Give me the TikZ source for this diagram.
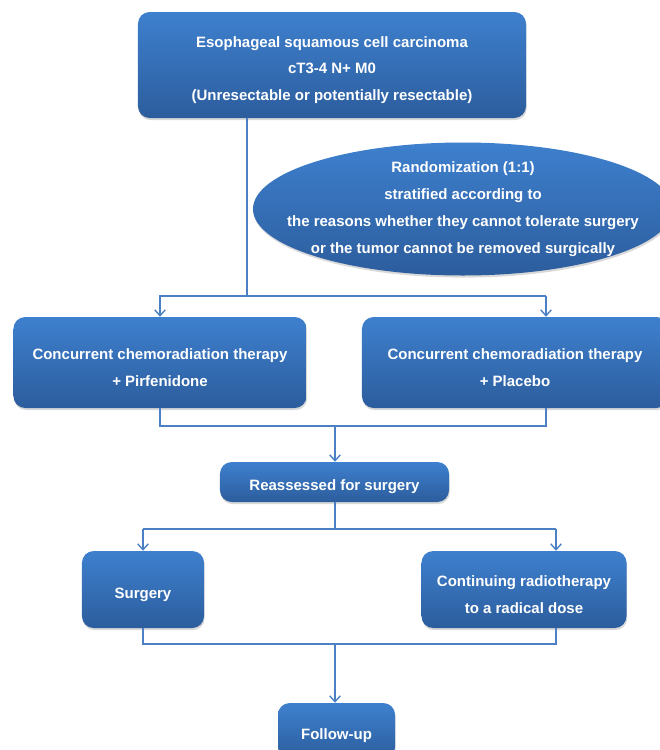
\documentclass[tikz,border=0pt]{standalone}
\usepackage{fontspec}
\setmainfont{Liberation Sans}
\usetikzlibrary{shapes,shadows,arrows.meta}
\definecolor{boxtop}{RGB}{62,128,206}
\definecolor{boxbot}{RGB}{44,93,157}
\definecolor{linecol}{RGB}{76,128,196}
\newcommand{\tp}{\rule{0pt}{18pt}}

\begin{document}
\begin{tikzpicture}[x=0.03cm,y=-0.03cm,
  box/.style={shape=rectangle,rounded corners=10pt,top color=boxtop,bottom color=boxbot,draw=none,text=white,align=center,inner sep=0pt,font=\bfseries\fontsize{12.8}{23}\selectfont,drop shadow={shadow xshift=0.6pt,shadow yshift=-1.8pt,opacity=0.3}},
  line/.style={draw=linecol,line width=1.2pt},
  arr/.style={-{Straight Barb[length=5pt,width=9pt]},draw=linecol,line width=1.2pt}]
\useasboundingbox (0,0) rectangle (659,750);

\node[box,minimum width=11.64cm,minimum height=3.18cm] (0) at (332,65) {\tp Esophageal squamous cell carcinoma\\cT3-4 N+ M0\\(Unresectable or potentially resectable)};
\node[box,shape=ellipse,rounded corners=0pt,minimum width=12.6cm,minimum height=3.99cm,inner xsep=-30pt,inner ysep=-8pt] (1) at (463,209) {Randomization (1:1)\\stratified according to\\the reasons whether they cannot tolerate surgery\\or the tumor cannot be removed surgically};
\node[box,minimum width=8.79cm,minimum height=2.73cm] (3) at (160,362.5) {\tp Concurrent chemoradiation therapy\\+ Pirfenidone};
\node[box,minimum width=9.18cm,minimum height=2.73cm] (4) at (515,362.5) {\tp Concurrent chemoradiation therapy\\+ Placebo};
\node[box,minimum width=6.87cm,minimum height=1.2cm] (5) at (334.5,482) {\tp Reassessed for surgery};
\node[box,minimum width=3.66cm,minimum height=2.31cm] (6) at (143,589.5) {\tp Surgery};
\node[box,minimum width=6.15cm,minimum height=2.31cm] (7) at (524,589.5) {\tp Continuing radiotherapy\\to a radical dose};
\node[box,minimum width=3.51cm,minimum height=1.68cm] (8) at (336.5,731) {\tp Follow-up};

\coordinate (a) at (247,296);
\coordinate (b) at (546,296);
\coordinate (c) at (335,426);
\coordinate (d) at (335,529);
\coordinate (e) at (556,529);
\coordinate (f) at (335,644);

\path [line] (0.south -| a) -- (a) -- (b);
\path [arr] (a) -| (3.north);
\path [arr] (b) -- (b |- 4.north);
\path [line] (3.south) |- (c);
\path [line] (4.south -| b) |- (c);
\path [arr] (c) -- (c |- 5.north);
\path [line] (5.south -| d) -- (d);
\path [line] (6.north |- d) -- (e);
\path [arr] (d -| 6.north) -- (6.north);
\path [arr] (e) -- (e |- 7.north);
\path [line] (6.south) |- (f);
\path [line] (7.south -| e) |- (f);
\path [arr] (f) -- (f |- 8.north);
\end{tikzpicture}
\end{document}
